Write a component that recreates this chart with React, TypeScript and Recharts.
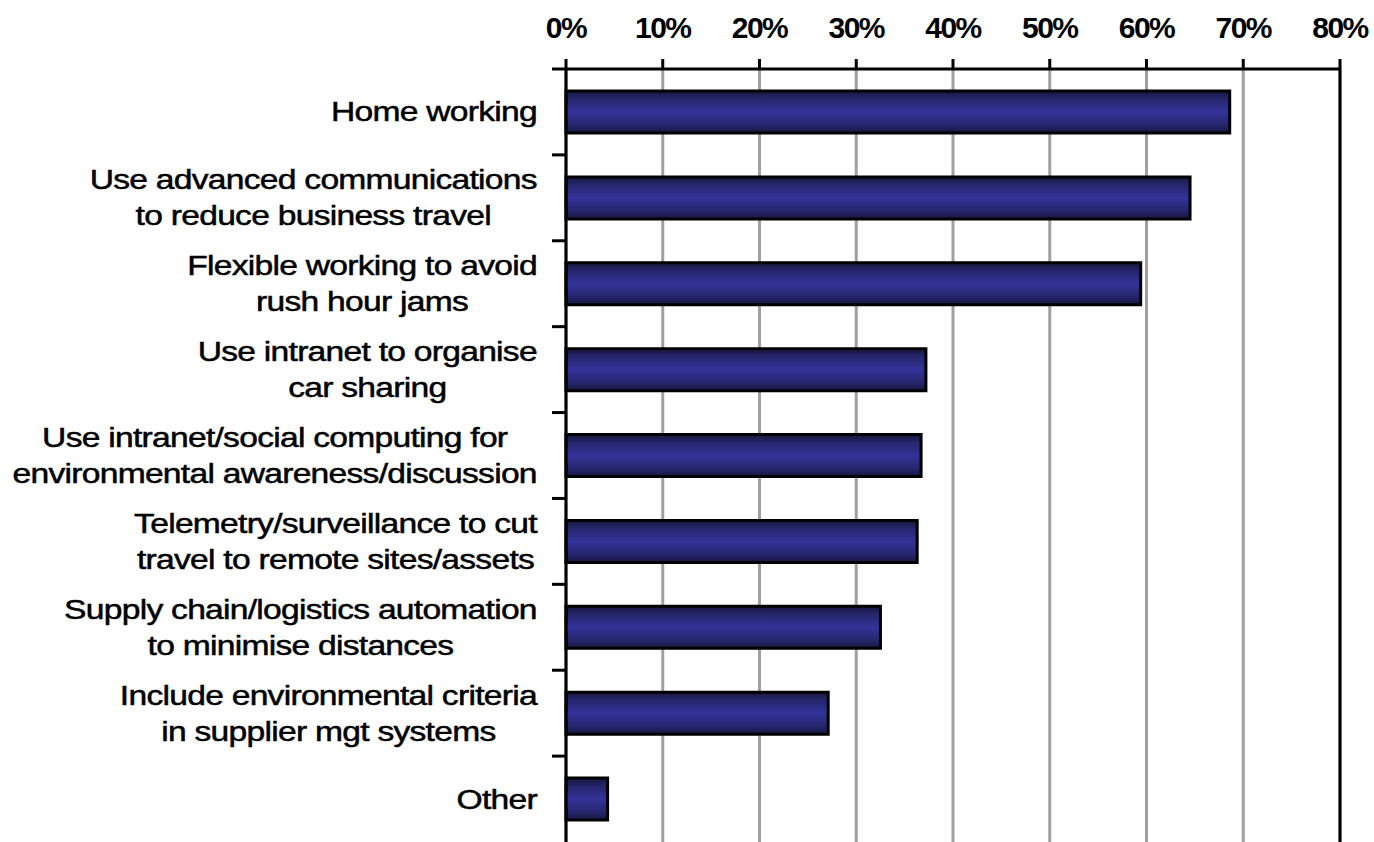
import { BarChart, Bar, XAxis, YAxis, CartesianGrid, ReferenceLine } from 'recharts';

const categories = [
  'Home working',
  'Use advanced communications\nto reduce business travel',
  'Flexible working to avoid\nrush hour jams',
  'Use intranet to organise\ncar sharing',
  'Use intranet/social computing for\nenvironmental awareness/discussion',
  'Telemetry/surveillance to cut\ntravel to remote sites/assets',
  'Supply chain/logistics automation\nto minimise distances',
  'Include environmental criteria\nin supplier mgt systems',
  'Other',
];
const values = [68.6, 64.5, 59.4, 37.2, 36.7, 36.3, 32.5, 27.1, 4.3];
const xTicks = [0, 10, 20, 30, 40, 50, 60, 70, 80];

const data = categories.map((name, i) => ({ name, value: values[i] }));

const W = 1374;
const H = 842;
const AXIS_X = 566;
const TOP = 69;
const RIGHT = 34;
const BAND = (H - TOP) / categories.length;
const LABEL_RIGHT = 537;
const FONT = '"Liberation Sans", Arial, sans-serif';
const STRETCH = 1.2;
const SPACING = -0.6;

let ctx: CanvasRenderingContext2D | null = null;
const measure = (s: string) => {
  if (!ctx) ctx = document.createElement('canvas').getContext('2d');
  if (!ctx) return s.length * 14;
  ctx.font = '28px "Liberation Sans"';
  return (ctx.measureText(s).width + SPACING * s.length) * STRETCH;
};

const CategoryTick = (props: any) => {
  const { y, payload } = props;
  const lines = String(payload.value).split('\n');
  const maxW = Math.max(...lines.map(measure));
  const cx = LABEL_RIGHT - maxW / 2;
  const lineH = 36;
  const y0 = y - ((lines.length - 1) * lineH) / 2;
  return (
    <g>
      <line x1={552} x2={AXIS_X} y1={y - BAND / 2} y2={y - BAND / 2} stroke="#000" strokeWidth={3} />
      {lines.map((l, i) => (
        <text
          key={i}
          x={0}
          y={0}
          transform={`translate(${cx},${y0 + i * lineH}) scale(${STRETCH},1)`}
          textAnchor="middle"
          dominantBaseline="central"
          fontFamily={FONT}
          fontSize={28}
          letterSpacing={SPACING}
          fill="#000"
          stroke="#000"
          strokeWidth={0.5}
        >
          {l}
        </text>
      ))}
    </g>
  );
};

const PctTick = (props: any) => {
  const { x, payload } = props;
  return (
    <text
      x={x}
      y={27}
      textAnchor="middle"
      dominantBaseline="central"
      fontFamily={FONT}
      fontWeight="bold"
      fontSize={30}
      letterSpacing={-1.5}
      fill="#000"
    >
      {payload.value}%
    </text>
  );
};

const App = () => {
  return (
    <div style={{ position: 'absolute', left: 0, top: 0, background: '#fff' }}>
      <BarChart
        width={W}
        height={H}
        data={data}
        layout="vertical"
        margin={{ top: 0, right: RIGHT, bottom: 0, left: 0 }}
      >
        <defs>
          <linearGradient id="barFill" x1="0" y1="0" x2="0" y2="1">
            <stop offset="0%" stopColor="#17173f" />
            <stop offset="20%" stopColor="#26266f" />
            <stop offset="50%" stopColor="#333399" />
            <stop offset="80%" stopColor="#26266f" />
            <stop offset="100%" stopColor="#17173f" />
          </linearGradient>
        </defs>
        <CartesianGrid horizontal={false} stroke="#a0a0a0" strokeWidth={3} />
        <XAxis
          type="number"
          orientation="top"
          domain={[0, 80]}
          ticks={xTicks}
          height={TOP}
          axisLine={{ stroke: '#000', strokeWidth: 3 }}
          tickLine={{ stroke: '#000', strokeWidth: 3 }}
          tickSize={10}
          tick={<PctTick />}
          interval={0}
        />
        <YAxis
          type="category"
          dataKey="name"
          width={AXIS_X}
          axisLine={{ stroke: '#000', strokeWidth: 3 }}
          tickLine={false}
          tick={<CategoryTick />}
          interval={0}
        />
        <ReferenceLine x={80} stroke="#000" strokeWidth={3} />
        <Bar
          dataKey="value"
          fill="url(#barFill)"
          stroke="#000"
          strokeWidth={3}
          barSize={42}
          isAnimationActive={false}
        />
      </BarChart>
    </div>
  );
};

export default App;
